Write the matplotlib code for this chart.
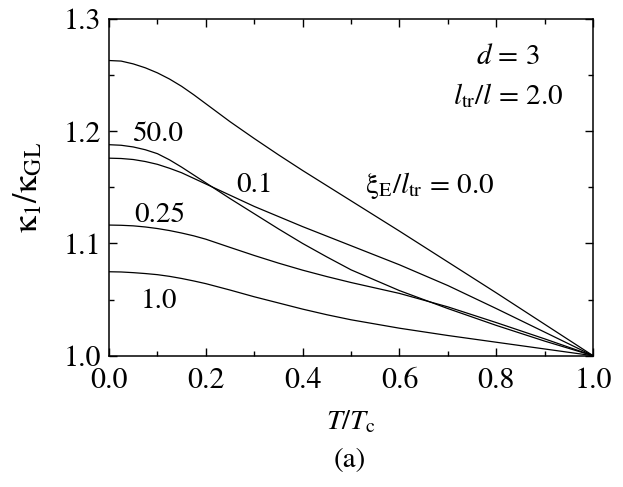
import matplotlib
matplotlib.use('Agg')
import matplotlib.pyplot as plt

plt.rcParams['font.family'] = 'STIXGeneral'
plt.rcParams['mathtext.fontset'] = 'stix'

# T/Tc values where curves were read
t = [0.0, 0.025, 0.05, 0.075, 0.1, 0.125, 0.15, 0.175, 0.2, 0.25, 0.3, 0.35, 0.4, 0.45,
     0.5, 0.6, 0.7, 0.8, 0.9, 1.0]

# kappa_1/kappa_GL for each xi_E/l_tr
k_00 = [1.263, 1.2625, 1.260, 1.2565, 1.252, 1.2465, 1.240, 1.2325, 1.2245, 1.2085, 1.1935,
        1.179, 1.165, 1.1515, 1.138, 1.111, 1.0835, 1.056, 1.028, 1.0]
k_500 = [1.188, 1.1875, 1.186, 1.1835, 1.180, 1.1745, 1.168, 1.161, 1.154, 1.140, 1.1265,
         1.113, 1.1, 1.088, 1.0765, 1.058, 1.042, 1.027, 1.013, 1.0]
k_01 = [1.176, 1.1757, 1.1748, 1.173, 1.1705, 1.167, 1.163, 1.158, 1.153, 1.143, 1.133,
        1.124, 1.115, 1.1065, 1.098, 1.081, 1.0625, 1.042, 1.021, 1.0]
k_025 = [1.1164, 1.1162, 1.1157, 1.1147, 1.1133, 1.1115, 1.1093, 1.1068, 1.1038, 1.0965,
         1.0893, 1.0825, 1.0762, 1.0705, 1.0652, 1.0555, 1.0435, 1.0295, 1.015, 1.0]
k_10 = [1.0748, 1.0746, 1.074, 1.0732, 1.0722, 1.0707, 1.0688, 1.0666, 1.0642, 1.0585,
        1.0525, 1.047, 1.0415, 1.0365, 1.032, 1.0245, 1.018, 1.012, 1.006, 1.0]

curves = [k_00, k_500, k_01, k_025, k_10]

fig = plt.figure(figsize=(6.23, 4.87), dpi=100)
ax = fig.add_axes([0.175, 0.2696, 0.777, 0.6914])

for k in curves:
    ax.plot(t, k, color='black', lw=0.9)

ax.set_xlim(0.0, 1.0)
ax.set_ylim(1.0, 1.3)
ax.set_xticks([0.0, 0.2, 0.4, 0.6, 0.8, 1.0])
ax.set_xticks([0.1, 0.3, 0.5, 0.7, 0.9], minor=True)
ax.set_yticks([1.0, 1.1, 1.2, 1.3])
ax.set_yticks([1.05, 1.15, 1.25], minor=True)
ax.tick_params(which='both', direction='in', top=True, right=True, labelsize=21.5, width=1)
ax.tick_params(which='major', length=5.5)
ax.tick_params(which='minor', length=3.5)
ax.tick_params(axis='x', which='major', pad=8.5)
ax.tick_params(axis='y', which='major', pad=6)
for s in ax.spines.values():
    s.set_linewidth(1.1)

ax.set_xlabel(r'$T/T_{\mathrm{c}}$', fontsize=20.5, labelpad=10)
ax.set_ylabel(r'$\mathrm{κ}_1/\mathrm{κ}_{\mathrm{GL}}$', fontsize=24.5, labelpad=13)

# curve labels
ax.text(0.10, 1.197, '50.0', fontsize=21, ha='center', va='center')
ax.text(0.30, 1.152, '0.1', fontsize=21, ha='center', va='center')
ax.text(0.105, 1.125, '0.25', fontsize=21, ha='center', va='center')
ax.text(0.103, 1.048, '1.0', fontsize=21, ha='center', va='center')
ax.text(0.529, 1.152, r'$\mathrm{ξ}_{\mathrm{E}}/l_{\mathrm{tr}}$ = 0.0', fontsize=21, ha='left', va='center')
ax.text(0.824, 1.266, r'$d$ = 3', fontsize=21, ha='center', va='center')
ax.text(0.825, 1.232, r'$l_{\mathrm{tr}}/l$ = 2.0', fontsize=21, ha='center', va='center')

fig.text(0.562, 0.055, '(a)', fontsize=21, ha='center', va='center')

fig.savefig('out.png', dpi=100)
